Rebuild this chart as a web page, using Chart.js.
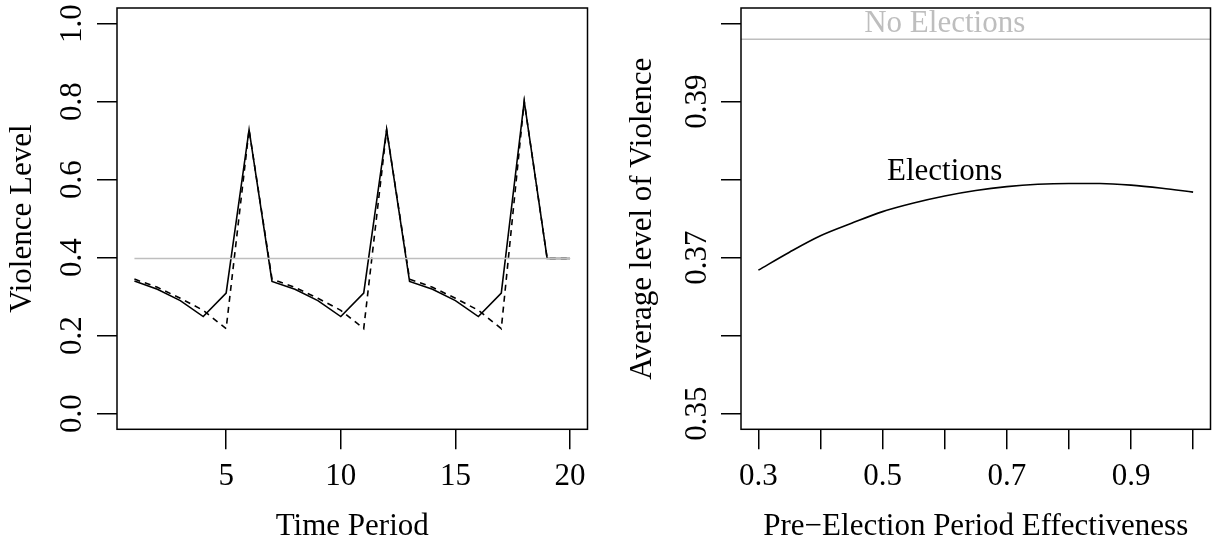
<!DOCTYPE html>
<html>
<head>
<meta charset="utf-8">
<script src="https://cdn.jsdelivr.net/npm/chart.js@4.4.1/dist/chart.umd.min.js"></script>
<style>
    body { margin: 0; background: #fff; width: 1212px; height: 546px; overflow: hidden; }
    .panel { position: absolute; top: 0; width: 606px; height: 546px; }
</style>
</head>
<body>
<div class="panel" style="left:0"><canvas id="leftChart"></canvas></div>
<div class="panel" style="left:606px"><canvas id="rightChart"></canvas></div>

<script>
// ---- left panel data ----
const periods = [1, 2, 3, 4, 5, 6, 7, 8, 9, 10, 11, 12, 13, 14, 15, 16, 17, 18, 19, 20];
const violenceSolid = [0.340, 0.319, 0.290, 0.249, 0.309, 0.728, 0.339, 0.319, 0.290, 0.249,
                       0.309, 0.728, 0.339, 0.319, 0.290, 0.249, 0.309, 0.801, 0.398, 0.398];
const violenceDashed = [0.345, 0.324, 0.296, 0.265, 0.218, 0.728, 0.345, 0.324, 0.296, 0.265,
                        0.218, 0.728, 0.345, 0.324, 0.296, 0.265, 0.218, 0.801, 0.398, 0.398];
const noElectionLevel = 0.398;
const periodTicks = [5, 10, 15, 20];
const violenceTicks = [0, 0.2, 0.4, 0.6, 0.8, 1.0];
const violenceLabels = ["0.0", "0.2", "0.4", "0.6", "0.8", "1.0"];

// ---- right panel data ----
const effectiveness = [0.30, 0.35, 0.40, 0.45, 0.50, 0.55, 0.60, 0.65, 0.70, 0.75, 0.80, 0.85, 0.90, 0.95, 1.00];
const avgViolence = [0.3684, 0.3707, 0.3728, 0.3744, 0.3759, 0.3770, 0.3779, 0.3786, 0.3791,
                     0.3794, 0.3795, 0.3795, 0.3793, 0.3789, 0.3784];
const effTicks = [0.3, 0.4, 0.5, 0.6, 0.7, 0.8, 0.9, 1.0];
const effLabels = ["0.3", "", "0.5", "", "0.7", "", "0.9", ""];
const avgTicks = [0.35, 0.36, 0.37, 0.38, 0.39, 0.40];
const avgLabels = ["0.35", "", "0.37", "", "0.39", ""];
const noElectionsText = { x: 0.6, y: 0.400, text: "No Elections" };
const electionsText = { x: 0.6, y: 0.381, text: "Elections" };

const serif = '"Liberation Serif", "Times New Roman", serif';
const font = { family: serif, size: 31 };
const gray = "#BEBEBE";

// box around the plot region, like R's box()
const boxPlugin = {
    id: "box",
    afterDraw(chart) {
        const a = chart.chartArea;
        const ctx = chart.ctx;
        ctx.save();
        ctx.strokeStyle = "#000";
        ctx.lineWidth = 1.5;
        ctx.strokeRect(a.left, a.top, a.right - a.left, a.bottom - a.top);
        ctx.restore();
    }
};

function pts(xs, ys) {
    return xs.map((x, i) => ({ x: x, y: ys[i] }));
}

function xAxis(min, max, tickVals, labels, title, height, padBottom) {
    return {
        type: "linear",
        position: "bottom",
        min: min,
        max: max,
        afterBuildTicks: s => { s.ticks = tickVals.map(v => ({ value: v })); },
        afterFit: s => { s.height = height; s.paddingLeft = 0; s.paddingRight = 0; },
        ticks: {
            autoSkip: false, maxRotation: 0, minRotation: 0, padding: 9,
            color: "#000", font: font,
            callback: (v, i) => labels[i]
        },
        grid: { drawOnChartArea: false, drawTicks: true, tickLength: 20, color: "#000", lineWidth: 1.5 },
        border: { display: false },
        title: { display: true, text: title, color: "#000", font: font, padding: { top: 0, bottom: padBottom } }
    };
}

function yAxis(min, max, tickVals, labels, title, width, labelPad, titlePad) {
    return {
        type: "linear",
        position: "left",
        min: min,
        max: max,
        afterBuildTicks: s => { s.ticks = tickVals.map(v => ({ value: v })); },
        afterFit: s => { s.width = width; s.paddingTop = 0; s.paddingBottom = 0; },
        ticks: {
            autoSkip: false, minRotation: 90, maxRotation: 90, crossAlign: "center",
            padding: labelPad, color: "#000", font: font,
            callback: (v, i) => labels[i]
        },
        grid: { drawOnChartArea: false, drawTicks: true, tickLength: 20, color: "#000", lineWidth: 1.5 },
        border: { display: false },
        title: { display: true, text: title, color: "#000", font: font, padding: { top: titlePad, bottom: 0 } }
    };
}

// ---- left chart ----
new Chart(document.getElementById("leftChart"), {
    type: "line",
    data: {
        datasets: [
            {
                data: [{ x: periods[0], y: noElectionLevel }, { x: periods[periods.length - 1], y: noElectionLevel }],
                borderColor: gray, borderWidth: 1.6, pointRadius: 0
            },
            {
                data: pts(periods, violenceDashed),
                borderColor: "#000", borderWidth: 1.6, borderDash: [6, 5], pointRadius: 0
            },
            {
                data: pts(periods, violenceSolid),
                borderColor: "#000", borderWidth: 1.6, pointRadius: 0
            }
        ]
    },
    options: {
        responsive: true,
        maintainAspectRatio: false,
        animation: false,
        layout: { padding: { top: 8, right: 18.5, left: 0, bottom: 0 } },
        plugins: { legend: { display: false }, tooltip: { enabled: false } },
        scales: {
            x: xAxis(0.24, 20.76, periodTicks, periodTicks.map(String), "Time Period", 116.7, 1),
            y: yAxis(-0.04, 1.04, violenceTicks, violenceLabels, "Violence Level", 117, 4.8, 4.2)
        }
    },
    plugins: [boxPlugin]
});

// ---- right chart ----
const rightExtras = {
    id: "rightExtras",
    afterDatasetsDraw(chart) {
        const ctx = chart.ctx;
        const a = chart.chartArea;
        const xs = chart.scales.x, ys = chart.scales.y;
        ctx.save();
        // abline at the no-election level
        const yy = ys.getPixelForValue(noElectionLevel);
        ctx.strokeStyle = gray;
        ctx.lineWidth = 1.6;
        ctx.beginPath();
        ctx.moveTo(a.left, yy);
        ctx.lineTo(a.right, yy);
        ctx.stroke();
        ctx.font = "31px " + serif;
        ctx.textAlign = "center";
        ctx.textBaseline = "middle";
        ctx.fillStyle = gray;
        ctx.fillText(noElectionsText.text, xs.getPixelForValue(noElectionsText.x), ys.getPixelForValue(noElectionsText.y));
        ctx.fillStyle = "#000";
        ctx.fillText(electionsText.text, xs.getPixelForValue(electionsText.x), ys.getPixelForValue(electionsText.y));
        ctx.restore();
    }
};

new Chart(document.getElementById("rightChart"), {
    type: "line",
    data: {
        datasets: [
            {
                data: pts(effectiveness, avgViolence),
                borderColor: "#000", borderWidth: 1.6, pointRadius: 0,
                cubicInterpolationMode: "monotone"
            }
        ]
    },
    options: {
        responsive: true,
        maintainAspectRatio: false,
        animation: false,
        layout: { padding: { top: 8, right: 1.5, left: 0, bottom: 0 } },
        plugins: { legend: { display: false }, tooltip: { enabled: false } },
        scales: {
            x: xAxis(0.272, 1.028, effTicks, effLabels, "Pre\u2212Election Period Effectiveness", 116.7, 1),
            y: yAxis(0.348, 0.402, avgTicks, avgLabels, "Average level of Violence", 135, -3.9, 18.2)
        }
    },
    plugins: [rightExtras, boxPlugin]
});
</script>
</body>
</html>
